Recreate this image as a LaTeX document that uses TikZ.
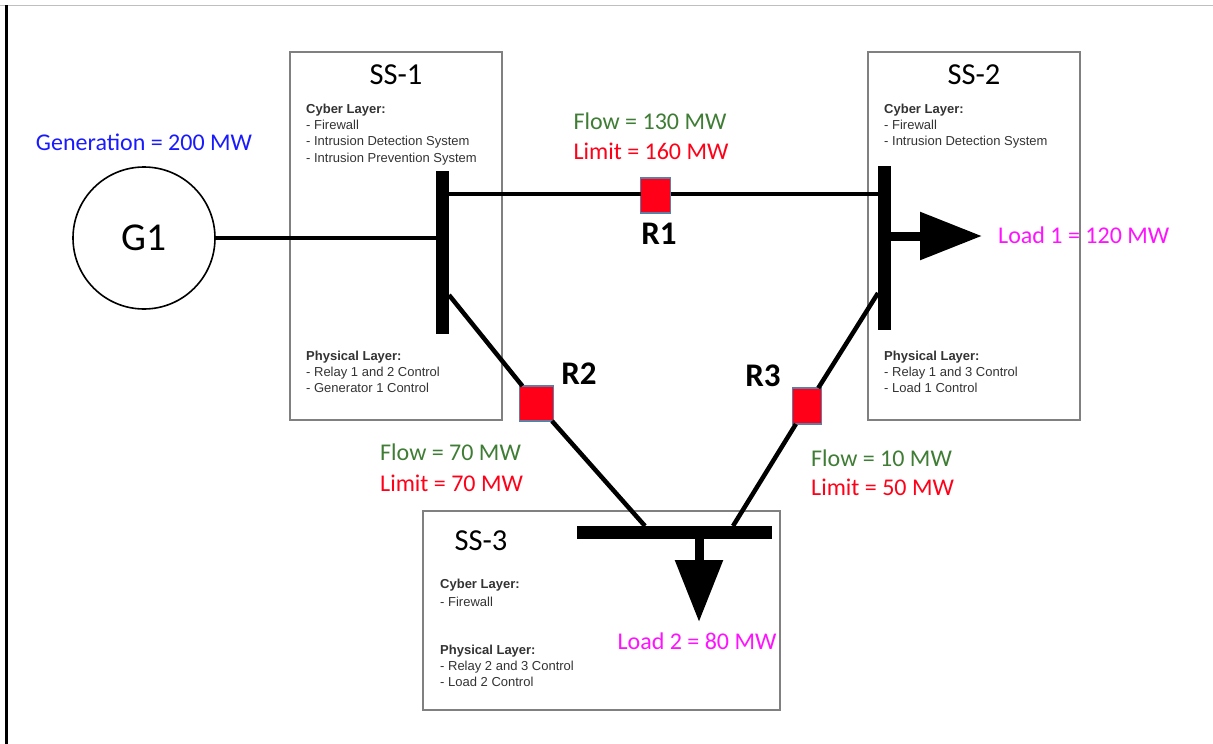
\documentclass[tikz,border=0pt]{standalone}
\usepackage{fontspec}
\setmainfont{Carlito}
\newfontfamily\smallfam{Liberation Sans}
\usetikzlibrary{arrows.meta}
\definecolor{boxgray}{HTML}{808080}
\definecolor{relayedge}{HTML}{5B7FA5}
\definecolor{flowgreen}{HTML}{3F7D35}
\definecolor{limitred}{HTML}{FF0018}
\definecolor{genblue}{HTML}{1A1AFF}
\definecolor{loadpink}{HTML}{FF12FF}
\definecolor{smalltext}{HTML}{333333}
\tikzset{
  x=1pt,y=-1pt,
  station/.style={draw=boxgray,line width=2pt,fill=white,rectangle,inner sep=0pt,outer sep=0pt},
  bus/.style={fill=black,rectangle,inner sep=0pt,outer sep=0pt},
  relay/.style={draw=relayedge,line width=1.2pt,fill=limitred,rectangle,inner sep=0pt,outer sep=0pt},
  feeder/.style={draw=black,line width=4.5pt},
  loadarrow/.style={draw=black,line width=9pt,-{Triangle[length=62pt,width=46pt]}},
  big/.style={font=\fontsize{24}{28}\selectfont,inner sep=0pt},
  title/.style={font=\fontsize{30.5}{34}\selectfont,inner sep=0pt},
  relaylabel/.style={font=\fontsize{33}{36}\selectfont\bfseries,inner sep=0pt},
  layer/.style={font=\smallfam\fontsize{13}{16}\selectfont,text=smalltext,align=left,anchor=north west,inner sep=0pt},
}
\begin{document}
\begin{tikzpicture}
\useasboundingbox (0,0) rectangle (1213,744);
\fill[white] (0,0) rectangle (1213,744);
\coordinate (tl) at (0,5.5);
\coordinate (tr) at (1213,5.5);
\coordinate (lt) at (6,5);
\coordinate (lb) at (6,744);
\draw[color=black!25,line width=1pt] (tl) -- (tr);
\draw[black,line width=3pt] (lt) -- (lb);
% stations
\node[station,minimum width=212pt,minimum height=368pt] (ss1) at (396,236) {};
\node[station,minimum width=212pt,minimum height=368pt] (ss2) at (974,236) {};
\node[station,minimum width=357pt,minimum height=199pt] (ss3) at (601.5,610.5) {};
% buses
\node[bus,minimum width=13pt,minimum height=163pt] (bus1) at (442.5,252.5) {};
\node[bus,minimum width=13pt,minimum height=164pt] (bus2) at (884.5,248) {};
\node[bus,minimum width=195pt,minimum height=13pt] (bus3) at (674.5,532) {};
% generator
\node[draw=black,line width=1.6pt,circle,minimum size=142pt,inner sep=0pt,outer sep=0pt,font=\fontsize{39.5}{43}\selectfont] (g1) at (144,238) {G1};
% relays
\node[relay,minimum width=30pt,minimum height=35pt] (r1) at (655.5,195.5) {};
\node[relay,minimum width=34pt,minimum height=35pt] (r2) at (536.5,403.5) {};
\node[relay,minimum width=29pt,minimum height=36pt] (r3) at (807,406) {};
% junction points
\coordinate (a1) at (bus1.east |- 0,194);
\coordinate (a2) at (bus2.west |- 0,194);
\coordinate (b1) at (449,295);
\coordinate (b2) at (645,526);
\coordinate (c1) at (878,293);
\coordinate (c2) at (733,526);
\coordinate (d1) at (bus1.west |- g1.east);
\coordinate (l1a) at (891,236);
\coordinate (l1b) at (982,236);
\coordinate (l2a) at (699,538);
\coordinate (l2b) at (699,622);
% connectors
\draw[feeder] (g1.east) -- (d1);
\draw[feeder] (a1) -- (a1 -| r1.west);
\draw[feeder] (a2 -| r1.east) -- (a2);
\draw[feeder] (b1) -- (r2);
\draw[feeder] (r2) -- (b2);
\draw[feeder] (c1) -- (r3);
\draw[feeder] (r3) -- (c2);
\draw[loadarrow] (l1a) -- (l1b);
\draw[loadarrow] (l2a) -- (l2b);
% titles
\node[title] (t1) at (396,75) {SS-1};
\node[title] (t2) at (974,75) {SS-2};
\node[title] (t3) at (481,541) {SS-3};
% relay labels
\node[relaylabel] (lr1) at (659,233.5) {R1};
\node[relaylabel] (lr2) at (579,373.5) {R2};
\node[relaylabel] (lr3) at (763,375.5) {R3};
% values
\node[big,text=genblue] (gen) at (144,142.5) {Generation = 200 MW};
\node[big,text=flowgreen] (f1) at (650,121.5) {Flow = 130 MW};
\node[big,text=limitred] (m1) at (651,151.5) {Limit = 160 MW};
\node[big,text=flowgreen,anchor=west] (f2) at (380,452.5) {Flow = 70 MW};
\node[big,text=limitred,anchor=west] (m2) at (380,483.5) {Limit = 70 MW};
\node[big,text=flowgreen,anchor=west] (f3) at (811,458.5) {Flow = 10 MW};
\node[big,text=limitred,anchor=west] (m3) at (811,487.5) {Limit = 50 MW};
\node[big,text=loadpink,anchor=west] (load1) at (998,235.5) {Load 1 = 120 MW};
\node[big,text=loadpink] (load2) at (697,641.5) {Load 2 = 80 MW};
% layers
\node[layer] (c1t) at (306,104) {\textbf{Cyber Layer:}\\- Firewall\\- Intrusion Detection System\\[1pt]- Intrusion Prevention System};
\node[layer] (p1t) at (306,350.5) {\textbf{Physical Layer:}\\- Relay 1 and 2 Control\\- Generator 1 Control};
\node[layer] (c2t) at (884,104) {\textbf{Cyber Layer:}\\- Firewall\\- Intrusion Detection System};
\node[layer] (p2t) at (884,350.5) {\textbf{Physical Layer:}\\- Relay 1 and 3 Control\\- Load 1 Control};
\node[layer] (c3t) at (440,578.5) {\textbf{Cyber Layer:}\\[2pt]- Firewall};
\node[layer] (p3t) at (440,645) {\textbf{Physical Layer:}\\- Relay 2 and 3 Control\\- Load 2 Control};
\end{tikzpicture}
\end{document}
